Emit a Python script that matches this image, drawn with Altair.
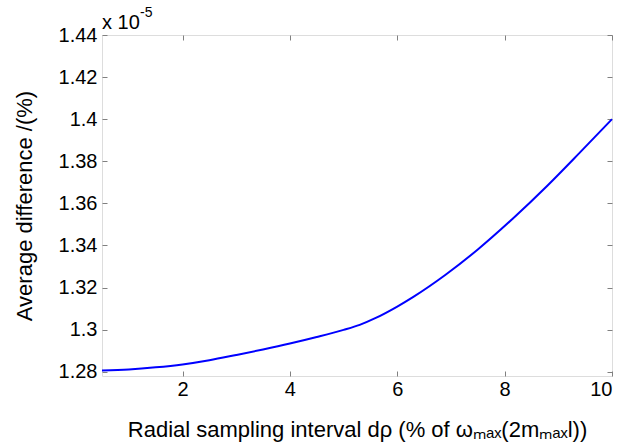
import altair as alt
import pandas as pd

# Data (y in units of 1e-5 %)
x_vals = [0.5, 1.0, 1.5, 2.0, 2.5, 3.0, 3.5, 4.0, 4.5, 5.0, 5.3, 5.6, 6.0,
          6.3, 6.9, 7.5, 8.15, 8.8, 9.4, 10.0]
y_vals = [1.2806, 1.2811, 1.2821, 1.2835, 1.2855, 1.2880, 1.2906, 1.2934, 1.2965,
          1.2999, 1.3023, 1.3056, 1.3110, 1.3156, 1.3261, 1.3381, 1.3527,
          1.3685, 1.3841, 1.4000]
x_ticks = [2, 4, 6, 8, 10]
y_ticks = [1.28, 1.30, 1.32, 1.34, 1.36, 1.38, 1.40, 1.42, 1.44]
exp_base = ["x 10"]
exp_power = ["-5"]

df = pd.DataFrame({"x": x_vals, "y": y_vals})

FONT = "Liberation Sans"
AX = "#808080"

xscale = alt.Scale(domain=[0.5, 10], nice=False, zero=False)
yscale = alt.Scale(domain=[1.278, 1.44], nice=False, zero=False)

base = alt.Chart(df)

main = base.mark_line(color="#0000FF", strokeWidth=2, interpolate="monotone").encode(
    x=alt.X("x:Q", scale=xscale,
            axis=alt.Axis(orient="bottom", values=x_ticks, format="d", offset=-5,
                          tickSize=5, labelPadding=3, domain=False, grid=False,
                          tickColor=AX, labelColor="black", labelFontSize=20,
                          labelFont=FONT, titleFont=FONT, titleFontSize=22,
                          titleFontWeight="normal", titleColor="black",
                          titlePadding=20,
                          title="Radial sampling interval dρ (% of ωₘₐₓ(2mₘₐₓl))")),
    y=alt.Y("y:Q", scale=yscale,
            axis=alt.Axis(orient="left", values=y_ticks, format=".2~f", offset=-5,
                          tickSize=5, labelPadding=5, domain=False, grid=False,
                          tickColor=AX, labelColor="black", labelFontSize=20,
                          labelFont=FONT, titleFont=FONT, titleFontSize=22,
                          titleFontWeight="normal", titleColor="black",
                          titlePadding=22, title="Average difference /(%)")),
)

mirror = base.mark_line(strokeOpacity=0).encode(
    x=alt.X("x:Q", scale=xscale,
            axis=alt.Axis(orient="top", values=x_ticks, offset=-5, tickSize=5,
                          labels=False, domain=False, grid=False, tickColor=AX,
                          title=None)),
    y=alt.Y("y:Q", scale=yscale,
            axis=alt.Axis(orient="right", values=y_ticks, offset=-5, tickSize=5,
                          labels=False, domain=False, grid=False, tickColor=AX,
                          title=None)),
)

exp1 = alt.Chart(pd.DataFrame({"t": exp_base})).mark_text(
    font=FONT, fontSize=20, color="black", align="left", baseline="alphabetic"
).encode(x=alt.value(0), y=alt.value(-6), text="t:N")

exp2 = alt.Chart(pd.DataFrame({"t": exp_power})).mark_text(
    font=FONT, fontSize=14, color="black", align="left", baseline="alphabetic"
).encode(x=alt.value(38), y=alt.value(-18), text="t:N")

chart = alt.layer(main, mirror, exp1, exp2).resolve_axis(
    x="independent", y="independent"
).properties(
    width=510, height=341,
    autosize=alt.AutoSizeParams(type="none"),
    padding={"left": 102, "top": 35, "right": 10, "bottom": 70},
).configure_view(stroke=AX, strokeWidth=1).configure(background="white")

chart.save("out.html", embed_options={"renderer": "svg", "actions": False})
